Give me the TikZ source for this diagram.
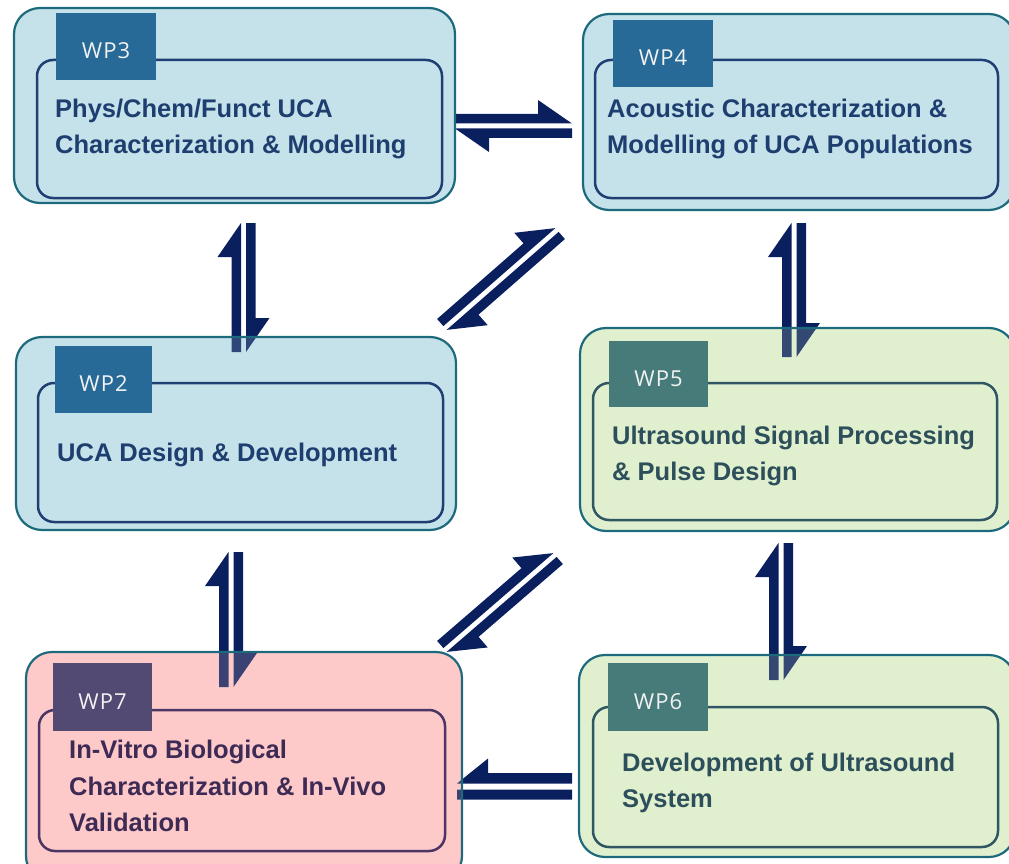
\documentclass[tikz,border=0pt]{standalone}
\usepackage{fontspec}
\setmainfont{Liberation Sans}
\newfontfamily\tagfont[LetterSpace=5]{Open Sans}
\usetikzlibrary{calc}
\pgfdeclarelayer{back}
\pgfsetlayers{back,main}

\definecolor{rimteal}{HTML}{1D6A7D}
\definecolor{arrownavy}{HTML}{0A1F5E}
\definecolor{fillblue}{HTML}{C5E2EA}
\definecolor{fillgreen}{HTML}{E0F0CF}
\definecolor{fillpink}{HTML}{FDC9C9}
\definecolor{lineblue}{HTML}{1F3E74}
\definecolor{linegreen}{HTML}{2F5662}
\definecolor{linepink}{HTML}{4B3563}
\definecolor{tagblue}{HTML}{276A97}
\definecolor{taggreen}{HTML}{467B7A}
\definecolor{tagpink}{HTML}{524A72}
\definecolor{txtblue}{HTML}{1E3E70}
\definecolor{txtgreen}{HTML}{2D4F5B}
\definecolor{txtpink}{HTML}{3E2B55}

\tikzset{
  outerbox/.style={draw=rimteal, line width=2.2pt, rounded corners=26pt, fill=#1, fill opacity=0.2,
    anchor=north west, inner sep=0pt, outer sep=0pt},
  innerbox/.style={draw=#1, line width=2.5pt, rounded corners=16pt, anchor=north west,
    minimum width=405pt, minimum height=138pt, inner sep=0pt, outer sep=0pt},
  wptag/.style={fill=#1, text=white!90!gray, font=\tagfont\fontsize{22pt}{26pt}\selectfont,
    minimum width=100pt, minimum height=67pt, text height=24pt, text depth=0pt, inner sep=0pt},
  wptext/.style={text=#1, font=\fontsize{25.5pt}{36.5pt}\selectfont\bfseries, align=left,
    anchor=west, inner sep=0pt},
  % two bars, each with a half head on its outer side
  exch/.style={to path={
    ($(\tikztostart)!2.5pt!90:(\tikztotarget)$) -- ($(\tikztostart)!12pt!90:(\tikztotarget)$)
    -- ($(\tikztotarget)!34pt!(\tikztostart)!12pt!-90:(\tikztostart)$)
    -- ($(\tikztotarget)!34pt!(\tikztostart)!26pt!-90:(\tikztostart)$)
    -- ($(\tikztotarget)!2.5pt!-90:(\tikztostart)$) -- cycle
    ($(\tikztotarget)!2.5pt!90:(\tikztostart)$) -- ($(\tikztotarget)!12pt!90:(\tikztostart)$)
    -- ($(\tikztostart)!34pt!(\tikztotarget)!12pt!-90:(\tikztotarget)$)
    -- ($(\tikztostart)!34pt!(\tikztotarget)!26pt!-90:(\tikztotarget)$)
    -- ($(\tikztostart)!2.5pt!-90:(\tikztotarget)$) -- cycle}},
  % one plain bar and one bar with a half head
  oneway/.style={to path={
    ($(\tikztostart)!3pt!90:(\tikztotarget)$) -- ($(\tikztostart)!13pt!90:(\tikztotarget)$)
    -- ($(\tikztotarget)!13pt!-90:(\tikztostart)$) -- ($(\tikztotarget)!3pt!-90:(\tikztostart)$) -- cycle
    ($(\tikztostart)!3pt!-90:(\tikztotarget)$) -- ($(\tikztostart)!13.5pt!-90:(\tikztotarget)$)
    -- ($(\tikztotarget)!31pt!(\tikztostart)!13.5pt!90:(\tikztostart)$)
    -- ($(\tikztotarget)!31pt!(\tikztostart)!28pt!90:(\tikztostart)$)
    -- ($(\tikztotarget)!3pt!90:(\tikztostart)$) -- cycle}}
}

\begin{document}
\begin{tikzpicture}[x=1pt, y=1pt]
\useasboundingbox (0,0) rectangle (1009,-864);

% arrow ends
\coordinate (wp3r) at (455,-126);
\coordinate (wp4l) at (572,-126);
\coordinate (wp3d) at (243.5,-223);
\coordinate (wp2u) at (243.5,-352);
\coordinate (wp4d) at (794,-223);
\coordinate (wp5u) at (794,-357);
\coordinate (wp4dl) at (557,-230);
\coordinate (wp2ur) at (445,-328);
\coordinate (wp2d) at (231,-552);
\coordinate (wp7u) at (231,-687);
\coordinate (wp5dl) at (555,-555);
\coordinate (wp7ur) at (445,-650);
\coordinate (wp5d) at (781,-543);
\coordinate (wp6u) at (781,-680);
\coordinate (wp6l) at (572,-786.5);
\coordinate (wp7r) at (457,-786.5);

\fill[arrownavy, exch] (wp3r) to (wp4l);
\fill[arrownavy, exch] (wp2u) to (wp3d);
\fill[arrownavy, exch] (wp5u) to (wp4d);
\fill[arrownavy, exch] (wp2ur) to (wp4dl);
\fill[arrownavy, exch] (wp7u) to (wp2d);
\fill[arrownavy, exch] (wp7ur) to (wp5dl);
\fill[arrownavy, exch] (wp6u) to (wp5d);
\fill[arrownavy, oneway] (wp6l) to (wp7r);

% work packages
\node[outerbox=fillblue, minimum width=441pt, minimum height=195pt] (wp3) at (14,-8) {};
\node[innerbox=lineblue] (wp3in) at (37,-60) {};
\node[wptag=tagblue] (wp3tag) at (106,-46.5) {WP3};
\node[wptext=txtblue] (wp3txt) at (55,-129) {Phys/Chem/Funct UCA\\Characterization \& Modelling};

\node[outerbox=fillblue, minimum width=432pt, minimum height=196pt] (wp4) at (583,-14) {};
\node[innerbox=lineblue, minimum width=403pt] (wp4in) at (595,-60) {};
\node[wptag=tagblue] (wp4tag) at (663,-53.5) {WP4};
\node[wptext=txtblue] (wp4txt) at (607,-129) {Acoustic Characterization \&\\Modelling of UCA Populations};

\node[outerbox=fillblue, minimum width=440pt, minimum height=193pt] (wp2) at (16,-337) {};
\node[innerbox=lineblue, minimum height=139pt] (wp2in) at (38,-383) {};
\node[wptag=tagblue, minimum width=97pt] (wp2tag) at (103.5,-379.5) {WP2};
\node[wptext=txtblue] (wp2txt) at (57,-454.5) {UCA Design \& Development};

\node[outerbox=fillgreen, minimum width=435pt, minimum height=203pt] (wp5) at (580,-328) {};
\node[innerbox=linegreen, minimum width=404pt, minimum height=137pt] (wp5in) at (593,-383) {};
\node[wptag=taggreen, minimum width=99pt, minimum height=66pt] (wp5tag) at (658.5,-374) {WP5};
\node[wptext=txtgreen] (wp5txt) at (612,-456) {Ultrasound Signal Processing\\\& Pulse Design};

\node[outerbox=fillpink, minimum width=436pt, minimum height=230pt] (wp7) at (26,-652) {};
\node[innerbox=linepink, minimum width=406pt, minimum height=141pt] (wp7in) at (39,-710) {};
\node[wptag=tagpink, minimum width=99pt, minimum height=68pt] (wp7tag) at (102.5,-697) {WP7};
\node[wptext=txtpink] (wp7txt) at (69,-786) {In-Vitro Biological\\Characterization \& In-Vivo\\Validation};

\node[outerbox=fillgreen, minimum width=436pt, minimum height=202pt] (wp6) at (579,-655) {};
\node[innerbox=linegreen, minimum height=140pt] (wp6in) at (593,-707) {};
\node[wptag=taggreen, minimum height=68pt] (wp6tag) at (658,-697) {WP6};
\node[wptext=txtgreen] (wp6txt) at (622,-783) {Development of Ultrasound\\System};

% solid fills under the arrows
\begin{pgfonlayer}{back}
  \fill[fillblue, rounded corners=26pt] (wp3.south west) rectangle (wp3.north east);
  \fill[fillblue, rounded corners=26pt] (wp4.south west) rectangle (wp4.north east);
  \fill[fillblue, rounded corners=26pt] (wp2.south west) rectangle (wp2.north east);
  \fill[fillgreen, rounded corners=26pt] (wp5.south west) rectangle (wp5.north east);
  \fill[fillpink, rounded corners=26pt] (wp7.south west) rectangle (wp7.north east);
  \fill[fillgreen, rounded corners=26pt] (wp6.south west) rectangle (wp6.north east);
\end{pgfonlayer}
\end{tikzpicture}
\end{document}
